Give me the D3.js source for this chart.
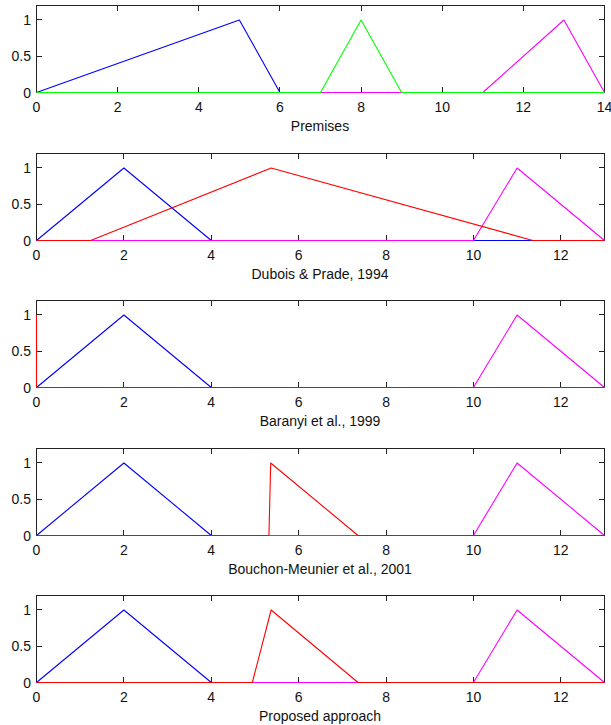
<!DOCTYPE html>
<head>
  <meta charset="utf-8">
  <script src="https://d3js.org/d3.v7.min.js"></script>
  <style>
    body { margin: 0; background: #fff; }
    text { font-family: "Liberation Sans", Arial, sans-serif; font-size: 14px; fill: #111; }
    .box { fill: none; stroke: #222; stroke-width: 1px; }
    .tick-mark { stroke: #222; stroke-width: 1px; }
    .series { fill: none; stroke-width: 1.1px; stroke-linejoin: round; }
  </style>
</head>
<body>
  <div id="vis"></div>
  <script>
    // panel titles and x ranges
    var titles = ["Premises", "Dubois & Prade, 1994", "Baranyi et al., 1999",
                  "Bouchon-Meunier et al., 2001", "Proposed approach"];
    var xMax = [14, 13, 13, 13, 13];
    var xTicks1 = [0, 2, 4, 6, 8, 10, 12, 14];
    var xTicks = [0, 2, 4, 6, 8, 10, 12];
    var yTicks = [0, 0.5, 1];

    // membership functions, [x, y] points, in drawing order
    var premBlue    = [[0, 0], [5, 1], [6, 0], [14, 0]];
    var premMagenta = [[0, 0], [11, 0], [13, 1], [14, 0]];
    var premGreen   = [[0, 0], [7, 0], [8, 1], [9, 0], [14, 0]];

    var setBlue    = [[0, 0], [2, 1], [4, 0], [13, 0]];
    var setMagenta = [[0, 0], [10, 0], [11, 1], [13, 0]];

    var duboisRed   = [[0, 0], [1.24, 0], [5.37, 1], [11.36, 0], [13, 0]];
    var baranyiRed  = [[0, 1], [0, 0], [13, 0]];
    var bouchonRed  = [[0, 0], [5.32, 0], [5.36, 1], [7.36, 0], [13, 0]];
    var proposedRed = [[0, 0], [4.94, 0], [5.37, 1], [7.36, 0], [13, 0]];

    var blue = "#0000ff", green = "#00ff00", red = "#ff0000", magenta = "#ff00ff";

    var panels = [
      [{ d: premBlue, c: blue }, { d: premMagenta, c: magenta }, { d: premGreen, c: green }],
      [{ d: setBlue, c: blue }, { d: setMagenta, c: magenta }, { d: duboisRed, c: red }],
      [{ d: setBlue, c: blue }, { d: setMagenta, c: magenta }, { d: baranyiRed, c: red }],
      [{ d: setBlue, c: blue }, { d: setMagenta, c: magenta }, { d: bouchonRed, c: red }],
      [{ d: setBlue, c: blue }, { d: setMagenta, c: magenta }, { d: proposedRed, c: red }]
    ];

    var width = 611, height = 725;
    var left = 36, right = 604, plotH = 87, step = 147.5, firstTop = 5;

    var svg = d3.select("#vis").append("svg")
      .attr("width", width)
      .attr("height", height);

    panels.forEach(function (series, i) {
      var top = Math.round(firstTop + i * step);
      var g = svg.append("g")
        .attr("transform", "translate(0," + top + ")");

      // half-pixel offsets so 1px lines stay crisp
      var x = d3.scaleLinear().domain([0, xMax[i]]).range([left + 0.5, right + 0.5]);
      var y = d3.scaleLinear().domain([0, 1.2]).range([plotH + 0.5, 0.5]);
      var ticks = i == 0 ? xTicks1 : xTicks;

      var line = d3.line()
        .x(function (d) { return x(d[0]); })
        .y(function (d) { return y(d[1]); });

      g.append("rect")
        .attr("class", "box")
        .attr("x", left + 0.5).attr("y", 0.5)
        .attr("width", right - left).attr("height", plotH);

      // inward ticks on all four sides
      ticks.forEach(function (t) {
        var px = Math.round(x(t) - 0.5) + 0.5;
        g.append("line").attr("class", "tick-mark")
          .attr("x1", px).attr("x2", px).attr("y1", plotH).attr("y2", plotH - 5);
        g.append("line").attr("class", "tick-mark")
          .attr("x1", px).attr("x2", px).attr("y1", 1).attr("y2", 6);
        g.append("text")
          .attr("x", x(t))
          .attr("y", plotH + 20)
          .attr("text-anchor", "middle")
          .text(t);
      });

      yTicks.forEach(function (t) {
        var py = Math.round(y(t) - 0.5) + 0.5;
        g.append("line").attr("class", "tick-mark")
          .attr("x1", left + 1).attr("x2", left + 6).attr("y1", py).attr("y2", py);
        g.append("line").attr("class", "tick-mark")
          .attr("x1", right).attr("x2", right - 5).attr("y1", py).attr("y2", py);
        g.append("text")
          .attr("x", left - 5)
          .attr("y", y(t))
          .attr("dy", "0.36em")
          .attr("text-anchor", "end")
          .text(t);
      });

      // lines go over the axis box, as in the original
      g.append("g")
        .selectAll("path")
        .data(series)
        .enter()
        .append("path")
        .attr("class", "series")
        .attr("stroke", function (s) { return s.c; })
        .attr("d", function (s) { return line(s.d); });

      g.append("text")
        .attr("x", (left + right) / 2)
        .attr("y", plotH + 39)
        .attr("text-anchor", "middle")
        .text(titles[i]);
    });
  </script>
</body>
